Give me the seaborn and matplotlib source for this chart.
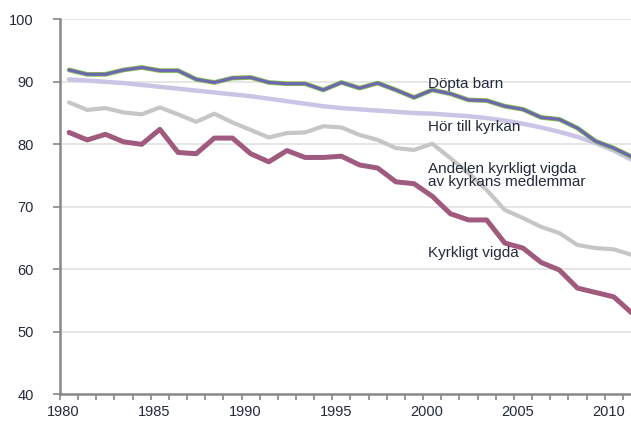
import numpy as np
import pandas as pd
import matplotlib
matplotlib.use("Agg")
import matplotlib.pyplot as plt
import matplotlib.patheffects as pe
import seaborn as sns

# ── Data ─────────────────────────────────────────────────────────────────────
years = list(range(1980, 2012))

dopta_barn = [91.9, 91.2, 91.2, 91.9, 92.3, 91.8, 91.8, 90.4, 89.9, 90.6,
              90.7, 89.9, 89.7, 89.7, 88.7, 89.9, 89.0, 89.8, 88.7, 87.5,
              88.7, 88.1, 87.1, 87.0, 86.1, 85.6, 84.3, 84.0, 82.6, 80.5,
              79.4, 78.0]

hor_till_kyrkan = [90.4, 90.2, 90.0, 89.8, 89.5, 89.2, 88.9, 88.6, 88.3, 88.0,
                   87.7, 87.3, 86.9, 86.5, 86.1, 85.8, 85.6, 85.4, 85.2, 85.0,
                   84.9, 84.7, 84.5, 84.2, 83.8, 83.3, 82.7, 82.0, 81.2, 80.2,
                   79.0, 77.5]

andelen_vigda = [86.7, 85.5, 85.8, 85.1, 84.8, 85.9, 84.8, 83.6, 84.9, 83.5,
                 82.3, 81.1, 81.8, 81.9, 82.9, 82.7, 81.5, 80.7, 79.4, 79.1,
                 80.1, 77.8, 75.4, 72.7, 69.5, 68.2, 66.8, 65.8, 63.9, 63.4,
                 63.2, 62.3]

kyrkligt_vigda = [81.9, 80.7, 81.6, 80.4, 80.0, 82.4, 78.7, 78.5, 81.0, 81.0,
                  78.5, 77.2, 79.0, 77.9, 77.9, 78.1, 76.7, 76.2, 74.0, 73.7,
                  71.7, 68.9, 67.9, 67.9, 64.2, 63.4, 61.1, 59.9, 57.0, 56.3,
                  55.6, 53.0]

y_ticks = [40, 50, 60, 70, 80, 90, 100]
x_labels = [1980, 1985, 1990, 1995, 2000, 2005, 2010]

TEXT = "#222a3c"

sns.set_theme(style="white")
plt.rcParams["font.family"] = ["Liberation Sans", "DejaVu Sans"]

df = pd.DataFrame({
    "year": years,
    "dopta": dopta_barn,
    "hor": hor_till_kyrkan,
    "andel": andelen_vigda,
    "kyrk": kyrkligt_vigda,
})

fig = plt.figure(figsize=(6.31, 4.23), dpi=100)
ax = fig.add_axes([0.0951, 0.0678, 0.9049, 0.8865])

# grid first so lines sit on top
for v in y_ticks[1:]:
    ax.axhline(v, color="#e4e4e4", linewidth=1.3, zorder=0)

sns.lineplot(data=df, x="year", y="andel", color="#c6c6c6", linewidth=3.0, ax=ax)
sns.lineplot(data=df, x="year", y="kyrk", color="#a05a7e", linewidth=3.6, ax=ax)
sns.lineplot(data=df, x="year", y="hor", color="#cbc4e4", linewidth=3.2, ax=ax)
sns.lineplot(data=df, x="year", y="dopta", color="#6e66ae", linewidth=2.2, ax=ax)
ax.lines[-1].set_path_effects([pe.Stroke(linewidth=3.4, foreground="#84c052"),
                               pe.Normal()])

ax.set_xlim(1979.5, 2010.95)
ax.set_ylim(40, 100)
ax.set_xlabel("")
ax.set_ylabel("")

# year boundary ticks, labels slightly right of the boundary
ax.set_xticks(np.arange(1979.5, 2011, 1.0), minor=True)
ax.set_xticks([y - 0.3 for y in x_labels])
ax.set_xticklabels([str(y) for y in x_labels])
ax.tick_params(axis="x", which="minor", length=4.5, width=1.2,
               color="#888888", direction="out", bottom=True)
ax.tick_params(axis="x", which="major", length=0, pad=7.5,
               labelsize=10.5, labelcolor=TEXT)

ax.set_yticks(y_ticks)
ax.tick_params(axis="y", length=5, width=1.2, color="#888888",
               direction="out", left=True, pad=14,
               labelsize=10.5, labelcolor=TEXT)

for side in ["top", "right"]:
    ax.spines[side].set_visible(False)
for side in ["left", "bottom"]:
    ax.spines[side].set_color("#888888")
    ax.spines[side].set_linewidth(1.8)

# series labels
ax.text(1999.75, 89.6, "Döpta barn", fontsize=11, color=TEXT, va="center")
ax.text(1999.75, 82.7, "Hör till kyrkan", fontsize=11, color=TEXT, va="center")
ax.text(1999.75, 75.0, "Andelen kyrkligt vigda\nav kyrkans medlemmar",
        fontsize=11, color=TEXT, va="center", linespacing=0.95)
ax.text(1999.75, 62.6, "Kyrkligt vigda", fontsize=11, color=TEXT, va="center")

fig.savefig("out.png", dpi=100)
